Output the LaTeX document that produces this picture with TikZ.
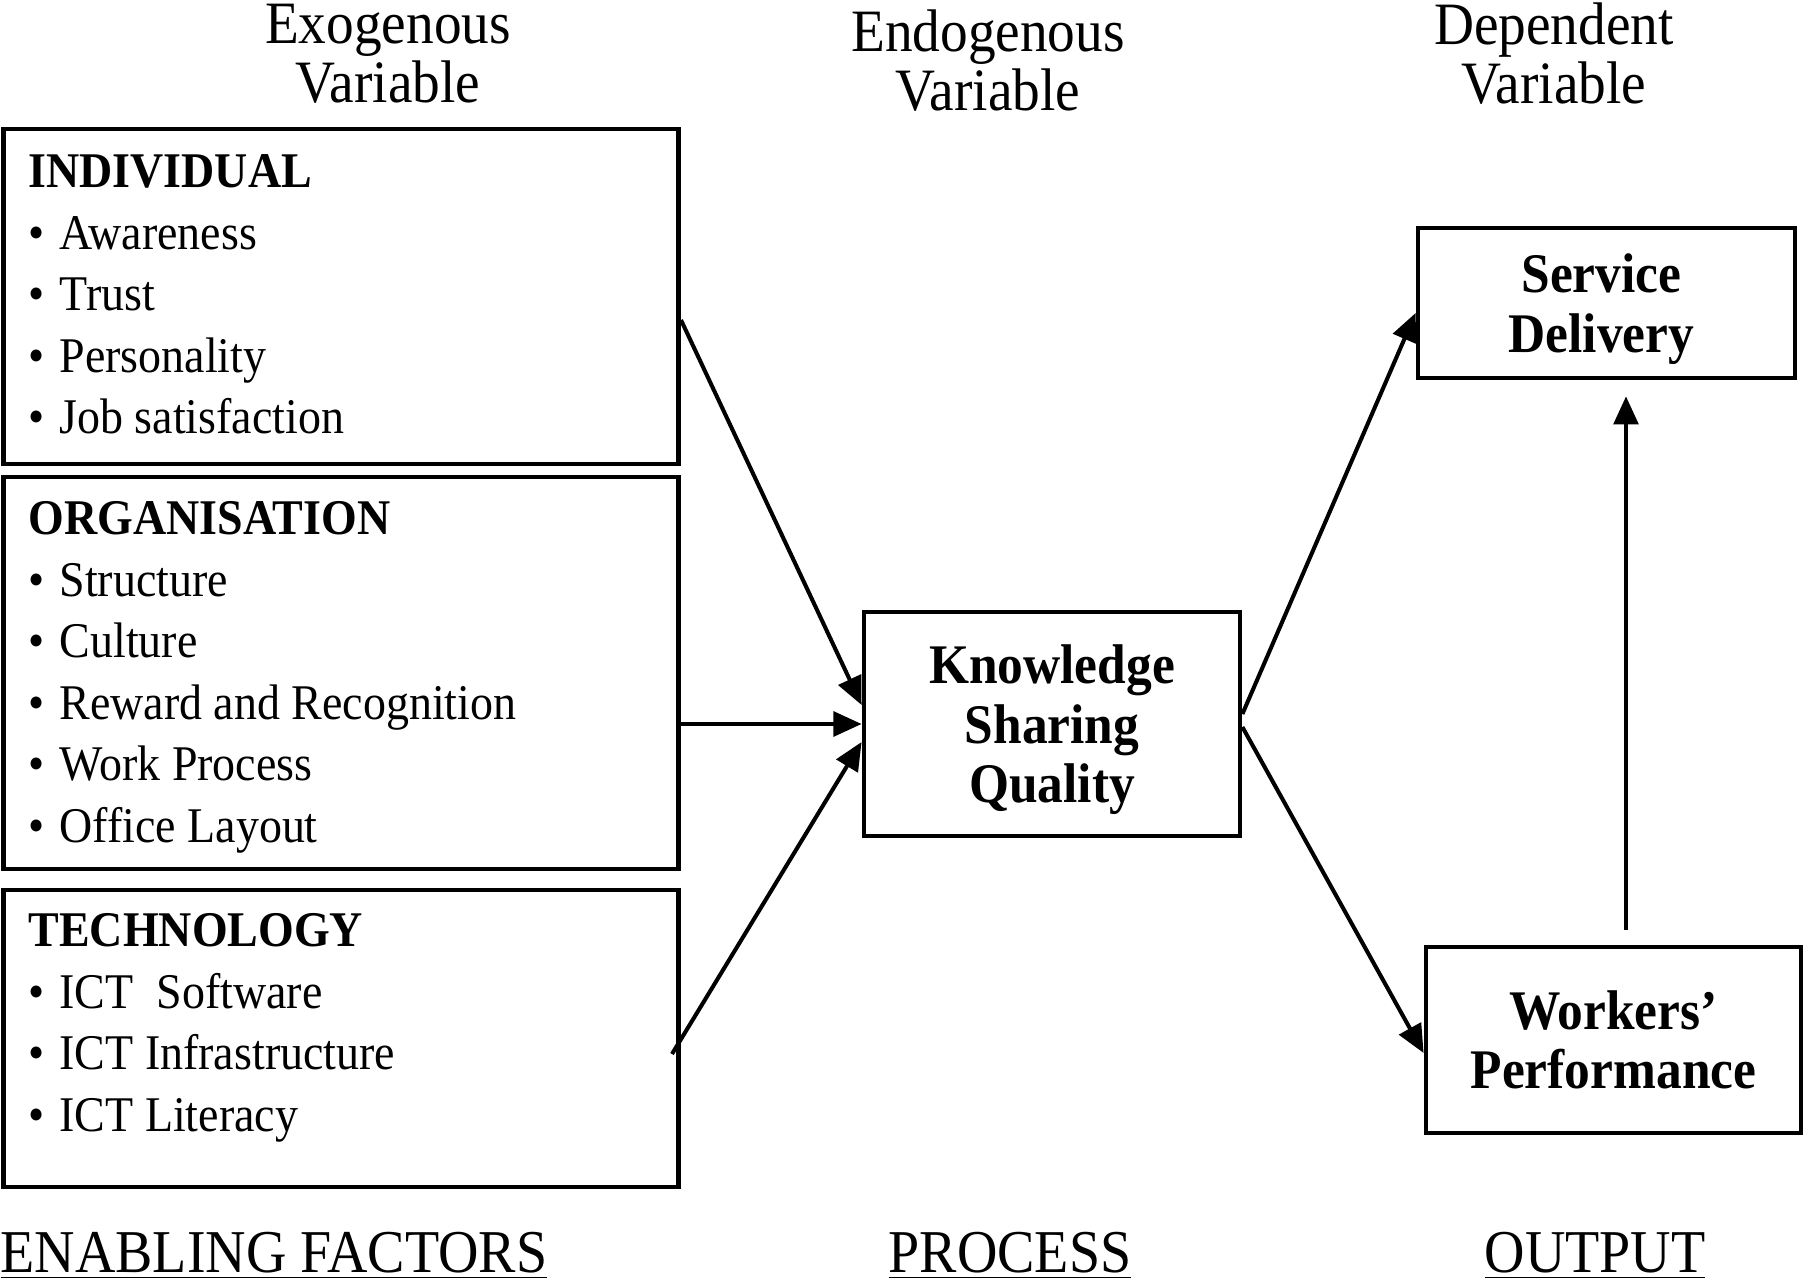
\documentclass[tikz,border=0pt]{standalone}
\usepackage{fontspec}
\setmainfont{Liberation Serif}[FakeStretch=0.92]
\usepackage{tikz}
\usetikzlibrary{arrows.meta,calc}

\tikzset{
	box/.style={draw,line width=1.3pt,inner sep=0pt},
	boxtext/.style={anchor=north west,inner sep=0pt,align=left,font=\fontsize{14.2}{17.5}\selectfont},
	boxlabel/.style={align=center,inner sep=0pt,font=\fontsize{15.9}{16.9}\selectfont\bfseries},
	colhead/.style={align=center,inner sep=0pt,font=\fontsize{17.1}{16.8}\selectfont},
	colfoot/.style={anchor=base,inner sep=0pt,font=\fontsize{17.3}{20}\selectfont},
	arr/.style={-{Triangle[length=8pt,width=7pt]},line width=1.15pt}
}
\newcommand{\itm}[1]{\makebox[8.8pt][l]{\textbullet}#1}

\begin{document}
\begin{tikzpicture}[x=0.01cm,y=-0.01cm]
	\useasboundingbox (0,0) rectangle (1805,1282);
	%
	%  HEADINGS
	%
	\node[colhead] (exo) at (388,54) {Exogenous\\Variable};
	\node[colhead] (endo) at (988,61) {Endogenous\\Variable};
	\node[colhead] (dep) at (1554,54) {Dependent\\Variable};
	%
	%  FACTOR BOXES
	%
	\node[box,minimum width=6.75cm,minimum height=3.35cm] (ind) at (341,296.5) {};
	\node[box,minimum width=6.75cm,minimum height=3.92cm] (org) at (341,673) {};
	\node[box,minimum width=6.75cm,minimum height=2.97cm] (tech) at (341,1038.5) {};
	\node[boxtext] (indtext) at (28,154) {\textbf{INDIVIDUAL}\\\itm{Awareness}\\\itm{Trust}\\\itm{Personality}\\\itm{Job satisfaction}};
	\node[boxtext] (orgtext) at (28,501) {\textbf{ORGANISATION}\\\itm{Structure}\\\itm{Culture}\\\itm{Reward and Recognition}\\\itm{Work Process}\\\itm{Office Layout}};
	\node[boxtext] (techtext) at (28,913) {\textbf{TECHNOLOGY}\\\itm{ICT\ \ Software}\\\itm{ICT Infrastructure}\\\itm{ICT Literacy}};
	%
	%  PROCESS AND OUTPUT
	%
	\node[box,minimum width=3.76cm,minimum height=2.24cm] (ksq) at (1052,724) {};
	\node[box,minimum width=3.77cm,minimum height=1.5cm] (sd) at (1606.5,303) {};
	\node[box,minimum width=3.75cm,minimum height=1.86cm] (wp) at (1613.5,1040) {};
	\node[boxlabel] (ksqtext) at ($(ksq)+(0,6)$) {Knowledge\\Sharing\\Quality};
	\node[boxlabel] (sdtext) at ($(sd)+(-5,6)$) {Service\\Delivery};
	\node[boxlabel] (wptext) at (wp) {Workers'\\Performance};
	%
	%  ARROWS
	%
	\path[arr]
	($(ind.east)+(0,23.5)$) edge ($(ksq.west)+(0,-19)$)
	(org.east |- ksq.west) edge (ksq.west)
	($(tech.east)+(-9,15.5)$) edge ($(ksq.west)+(0,18)$)
	($(ksq.east)+(0,-10)$) edge ($(sd.west)+(0,10)$)
	($(ksq.east)+(0,3)$) edge ($(wp.west)+(0,13)$)
	($(wp.north)+(12.5,-15)$) edge ($(wp.north |- sd.south)+(12.5,16)$);
	%
	%  FOOTERS
	%
	\node[colfoot] (enab) at (274,1272) {\underline{ENABLING FACTORS}};
	\node[colfoot] (proc) at (1010,1272) {\underline{PROCESS}};
	\node[colfoot] (outp) at (1595,1272) {\underline{OUTPUT}};
\end{tikzpicture}
\end{document}
